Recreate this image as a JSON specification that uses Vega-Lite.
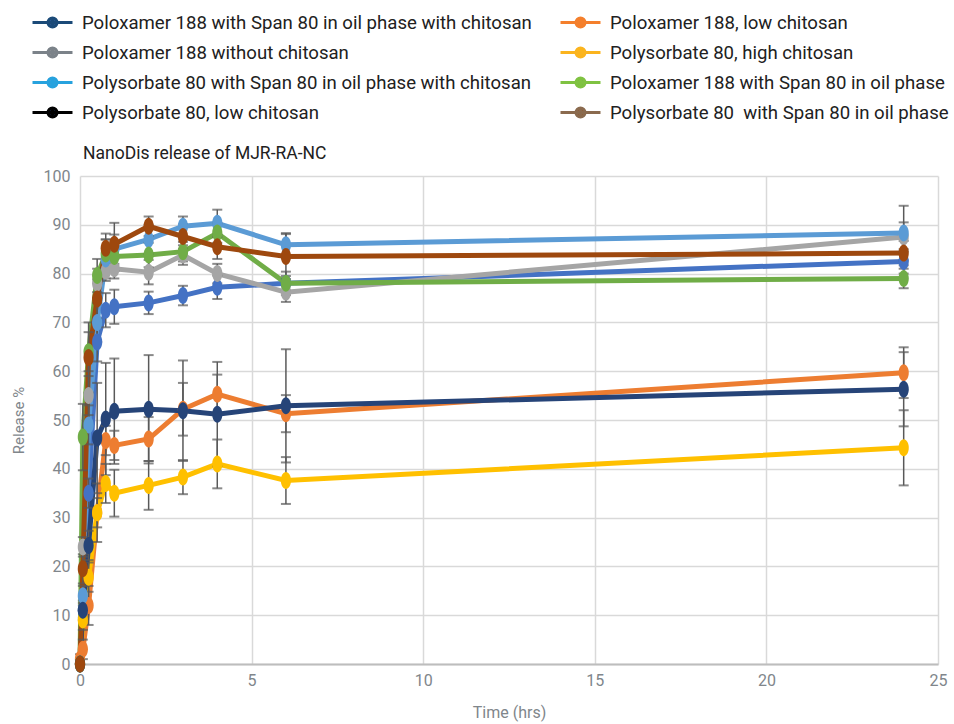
{
  "$schema": "https://vega.github.io/schema/vega-lite/v6.json",
  "width": 858,
  "height": 488,
  "autosize": {"type": "none"},
  "padding": {"left": 80, "top": 176, "right": 16, "bottom": 60},
  "background": "white",
  "title": {"text": "NanoDis release of MJR-RA-NC", "anchor": "start", "frame": "group", "font": "Roboto", "fontSize": 17.5, "fontWeight": "normal", "color": "#212121", "dx": 3, "offset": -156},
  "datasets": {
    "rel": [
      {"s": "Poloxamer 188 with Span 80 in oil phase with chitosan", "t": 0, "r": 0, "e": 0.5},
      {"s": "Poloxamer 188 with Span 80 in oil phase with chitosan", "t": 0.083, "r": 11, "e": 1.5},
      {"s": "Poloxamer 188 with Span 80 in oil phase with chitosan", "t": 0.25, "r": 35, "e": 3},
      {"s": "Poloxamer 188 with Span 80 in oil phase with chitosan", "t": 0.5, "r": 66, "e": 4},
      {"s": "Poloxamer 188 with Span 80 in oil phase with chitosan", "t": 0.75, "r": 72.5, "e": 3.5},
      {"s": "Poloxamer 188 with Span 80 in oil phase with chitosan", "t": 1, "r": 73.2, "e": 3.5},
      {"s": "Poloxamer 188 with Span 80 in oil phase with chitosan", "t": 2, "r": 74, "e": 2.3},
      {"s": "Poloxamer 188 with Span 80 in oil phase with chitosan", "t": 3, "r": 75.5, "e": 2},
      {"s": "Poloxamer 188 with Span 80 in oil phase with chitosan", "t": 4, "r": 77.2, "e": 2.4},
      {"s": "Poloxamer 188 with Span 80 in oil phase with chitosan", "t": 6, "r": 78, "e": 1.5},
      {"s": "Poloxamer 188 with Span 80 in oil phase with chitosan", "t": 24, "r": 82.5, "e": 2.5},
      {"s": "Poloxamer 188, low chitosan", "t": 0, "r": 1, "e": 1},
      {"s": "Poloxamer 188, low chitosan", "t": 0.083, "r": 3, "e": 2},
      {"s": "Poloxamer 188, low chitosan", "t": 0.25, "r": 12, "e": 4},
      {"s": "Poloxamer 188, low chitosan", "t": 0.5, "r": 31, "e": 6},
      {"s": "Poloxamer 188, low chitosan", "t": 0.75, "r": 45.8, "e": 3},
      {"s": "Poloxamer 188, low chitosan", "t": 1, "r": 44.8, "e": 3},
      {"s": "Poloxamer 188, low chitosan", "t": 2, "r": 46.1, "e": 4.5},
      {"s": "Poloxamer 188, low chitosan", "t": 3, "r": 52.2, "e": 5.4},
      {"s": "Poloxamer 188, low chitosan", "t": 4, "r": 55.3, "e": 4},
      {"s": "Poloxamer 188, low chitosan", "t": 6, "r": 51.3, "e": 3.8},
      {"s": "Poloxamer 188, low chitosan", "t": 24, "r": 59.7, "e": 5.2},
      {"s": "Poloxamer 188 without chitosan", "t": 0, "r": 0, "e": 0.5},
      {"s": "Poloxamer 188 without chitosan", "t": 0.083, "r": 24, "e": 2},
      {"s": "Poloxamer 188 without chitosan", "t": 0.25, "r": 55, "e": 4},
      {"s": "Poloxamer 188 without chitosan", "t": 0.5, "r": 78, "e": 3},
      {"s": "Poloxamer 188 without chitosan", "t": 0.75, "r": 80.5, "e": 2},
      {"s": "Poloxamer 188 without chitosan", "t": 1, "r": 81, "e": 2},
      {"s": "Poloxamer 188 without chitosan", "t": 2, "r": 80.3, "e": 2.5},
      {"s": "Poloxamer 188 without chitosan", "t": 3, "r": 83.8, "e": 2},
      {"s": "Poloxamer 188 without chitosan", "t": 4, "r": 80, "e": 2},
      {"s": "Poloxamer 188 without chitosan", "t": 6, "r": 76.2, "e": 2},
      {"s": "Poloxamer 188 without chitosan", "t": 24, "r": 87.5, "e": 3},
      {"s": "Polysorbate 80, high chitosan", "t": 0, "r": 0, "e": 0.5},
      {"s": "Polysorbate 80, high chitosan", "t": 0.083, "r": 9, "e": 2},
      {"s": "Polysorbate 80, high chitosan", "t": 0.25, "r": 17.8, "e": 3},
      {"s": "Polysorbate 80, high chitosan", "t": 0.5, "r": 31, "e": 3},
      {"s": "Polysorbate 80, high chitosan", "t": 0.75, "r": 37, "e": 4},
      {"s": "Polysorbate 80, high chitosan", "t": 1, "r": 35, "e": 4.8},
      {"s": "Polysorbate 80, high chitosan", "t": 2, "r": 36.6, "e": 5},
      {"s": "Polysorbate 80, high chitosan", "t": 3, "r": 38.3, "e": 3.5},
      {"s": "Polysorbate 80, high chitosan", "t": 4, "r": 41, "e": 5},
      {"s": "Polysorbate 80, high chitosan", "t": 6, "r": 37.6, "e": 4.8},
      {"s": "Polysorbate 80, high chitosan", "t": 24, "r": 44.3, "e": 7.7},
      {"s": "Polysorbate 80 with Span 80 in oil phase with chitosan", "t": 0, "r": 0, "e": 0.5},
      {"s": "Polysorbate 80 with Span 80 in oil phase with chitosan", "t": 0.083, "r": 14, "e": 2},
      {"s": "Polysorbate 80 with Span 80 in oil phase with chitosan", "t": 0.25, "r": 49, "e": 4},
      {"s": "Polysorbate 80 with Span 80 in oil phase with chitosan", "t": 0.5, "r": 70, "e": 4},
      {"s": "Polysorbate 80 with Span 80 in oil phase with chitosan", "t": 0.75, "r": 83, "e": 4},
      {"s": "Polysorbate 80 with Span 80 in oil phase with chitosan", "t": 1, "r": 85, "e": 3},
      {"s": "Polysorbate 80 with Span 80 in oil phase with chitosan", "t": 2, "r": 87, "e": 3},
      {"s": "Polysorbate 80 with Span 80 in oil phase with chitosan", "t": 3, "r": 89.7, "e": 2},
      {"s": "Polysorbate 80 with Span 80 in oil phase with chitosan", "t": 4, "r": 90.3, "e": 2.8},
      {"s": "Polysorbate 80 with Span 80 in oil phase with chitosan", "t": 6, "r": 85.9, "e": 2.4},
      {"s": "Polysorbate 80 with Span 80 in oil phase with chitosan", "t": 24, "r": 88.3, "e": 5.6},
      {"s": "Poloxamer 188 with Span 80 in oil phase", "t": 0, "r": 0, "e": 0.5},
      {"s": "Poloxamer 188 with Span 80 in oil phase", "t": 0.083, "r": 46.5, "e": 6.8},
      {"s": "Poloxamer 188 with Span 80 in oil phase", "t": 0.25, "r": 64, "e": 4},
      {"s": "Poloxamer 188 with Span 80 in oil phase", "t": 0.5, "r": 79.6, "e": 3.4},
      {"s": "Poloxamer 188 with Span 80 in oil phase", "t": 0.75, "r": 84, "e": 3},
      {"s": "Poloxamer 188 with Span 80 in oil phase", "t": 1, "r": 83.5, "e": 3},
      {"s": "Poloxamer 188 with Span 80 in oil phase", "t": 2, "r": 83.8, "e": 2.5},
      {"s": "Poloxamer 188 with Span 80 in oil phase", "t": 3, "r": 84.5, "e": 2},
      {"s": "Poloxamer 188 with Span 80 in oil phase", "t": 4, "r": 88.3, "e": 2},
      {"s": "Poloxamer 188 with Span 80 in oil phase", "t": 6, "r": 78, "e": 2.4},
      {"s": "Poloxamer 188 with Span 80 in oil phase", "t": 24, "r": 79, "e": 2},
      {"s": "Polysorbate 80, low chitosan", "t": 0, "r": 0, "e": 0.5},
      {"s": "Polysorbate 80, low chitosan", "t": 0.083, "r": 11, "e": 2},
      {"s": "Polysorbate 80, low chitosan", "t": 0.25, "r": 24.3, "e": 3},
      {"s": "Polysorbate 80, low chitosan", "t": 0.5, "r": 46.3, "e": 11.3},
      {"s": "Polysorbate 80, low chitosan", "t": 0.75, "r": 50.2, "e": 11.5},
      {"s": "Polysorbate 80, low chitosan", "t": 1, "r": 51.8, "e": 10.8},
      {"s": "Polysorbate 80, low chitosan", "t": 2, "r": 52.2, "e": 11.1},
      {"s": "Polysorbate 80, low chitosan", "t": 3, "r": 51.9, "e": 10.3},
      {"s": "Polysorbate 80, low chitosan", "t": 4, "r": 51.2, "e": 10.7},
      {"s": "Polysorbate 80, low chitosan", "t": 6, "r": 52.9, "e": 11.6},
      {"s": "Polysorbate 80, low chitosan", "t": 24, "r": 56.3, "e": 7.6},
      {"s": "Polysorbate 80\u00a0 with Span 80 in oil phase", "t": 0, "r": 0, "e": 0.5},
      {"s": "Polysorbate 80\u00a0 with Span 80 in oil phase", "t": 0.083, "r": 19.5, "e": 3},
      {"s": "Polysorbate 80\u00a0 with Span 80 in oil phase", "t": 0.25, "r": 62.8, "e": 7.2},
      {"s": "Polysorbate 80\u00a0 with Span 80 in oil phase", "t": 0.5, "r": 74.8, "e": 4},
      {"s": "Polysorbate 80\u00a0 with Span 80 in oil phase", "t": 0.75, "r": 85.2, "e": 3},
      {"s": "Polysorbate 80\u00a0 with Span 80 in oil phase", "t": 1, "r": 86, "e": 4.4},
      {"s": "Polysorbate 80\u00a0 with Span 80 in oil phase", "t": 2, "r": 89.7, "e": 2},
      {"s": "Polysorbate 80\u00a0 with Span 80 in oil phase", "t": 3, "r": 87.6, "e": 2.5},
      {"s": "Polysorbate 80\u00a0 with Span 80 in oil phase", "t": 4, "r": 85.5, "e": 2.5},
      {"s": "Polysorbate 80\u00a0 with Span 80 in oil phase", "t": 6, "r": 83.5, "e": 4.6},
      {"s": "Polysorbate 80\u00a0 with Span 80 in oil phase", "t": 24, "r": 84.2, "e": 2.5}
    ]
  },
  "data": {"name": "rel"},
  "encoding": {
    "x": {
      "field": "t", "type": "quantitative", "scale": {"domain": [0, 25], "nice": false},
      "axis": {
        "title": "Time (hrs)", "values": [0, 5, 10, 15, 20, 25], "ticks": false,
        "domain": true, "domainColor": "#bdbdbd", "domainWidth": 2,
        "grid": true, "gridColor": "#d9d9d9", "gridWidth": 1.5,
        "labelFont": "Roboto", "labelFontSize": 16, "labelColor": "#80868b", "labelPadding": 8, "labelFlush": false,
        "titleFont": "Roboto", "titleFontSize": 16, "titleFontWeight": "normal", "titleColor": "#80868b", "titlePadding": 16
      }
    },
    "y": {
      "field": "r", "type": "quantitative", "scale": {"domain": [0, 100], "nice": false},
      "axis": {
        "title": "Release %", "values": [0, 10, 20, 30, 40, 50, 60, 70, 80, 90, 100], "ticks": false,
        "domain": false, "grid": true, "gridColor": "#d9d9d9", "gridWidth": 1.5,
        "labelFont": "Roboto", "labelFontSize": 16, "labelColor": "#80868b", "labelPadding": 10,
        "titleFont": "Roboto", "titleFontSize": 15, "titleFontWeight": "normal", "titleColor": "#80868b", "titlePadding": 17
      }
    }
  },
  "layer": [
    {
      "transform": [{"filter": "datum.t == 0"}],
      "mark": {"type": "line", "strokeWidth": 3},
      "encoding": {
        "stroke": {
          "field": "s", "type": "nominal",
          "scale": {
            "domain": ["Poloxamer 188 with Span 80 in oil phase with chitosan", "Poloxamer 188, low chitosan", "Poloxamer 188 without chitosan", "Polysorbate 80, high chitosan", "Polysorbate 80 with Span 80 in oil phase with chitosan", "Poloxamer 188 with Span 80 in oil phase", "Polysorbate 80, low chitosan", "Polysorbate 80\u00a0 with Span 80 in oil phase"],
            "range": ["#1b4a78", "#f47f2c", "#7b8289", "#fbb41e", "#27a2de", "#7fc241", "#000000", "#8a6a4e"]
          },
          "legend": {
            "orient": "none", "legendX": -44, "legendY": -170, "columns": 2, "direction": "horizontal", "title": null,
            "labelFont": "Roboto", "labelFontSize": 18.6, "labelColor": "#212121", "labelLimit": 700,
            "symbolType": "M-1.333,0H1.333M-0.1,0A0.1,0.1 0 1,0 0.1,0A0.1,0.1 0 1,0 -0.1,0M-0.3,0A0.3,0.3 0 1,0 0.3,0A0.3,0.3 0 1,0 -0.3,0",
            "symbolSize": 900, "symbolStrokeWidth": 3, "symbolOpacity": 1,
            "columnPadding": 22, "rowPadding": 3, "labelOffset": 13, "padding": 0
          }
        }
      }
    },
    {
      "mark": {"type": "line", "strokeWidth": 5},
      "encoding": {
        "color": {
          "field": "s", "type": "nominal", "legend": null,
          "scale": {
            "domain": ["Poloxamer 188 with Span 80 in oil phase with chitosan", "Poloxamer 188, low chitosan", "Poloxamer 188 without chitosan", "Polysorbate 80, high chitosan", "Polysorbate 80 with Span 80 in oil phase with chitosan", "Poloxamer 188 with Span 80 in oil phase", "Polysorbate 80, low chitosan", "Polysorbate 80\u00a0 with Span 80 in oil phase"],
            "range": ["#4472C4", "#ED7D31", "#A5A5A5", "#FFC000", "#5B9BD5", "#70AD47", "#264478", "#9E480E"]
          }
        }
      }
    },
    {
      "mark": {"type": "errorbar", "color": "#595959", "thickness": 1.5, "ticks": {"size": 10, "thickness": 2, "color": "#595959"}},
      "encoding": {
        "yError": {"field": "e"}
      }
    },
    {
      "mark": {"type": "point", "filled": true, "opacity": 1, "size": 289, "shape": "M0,-1A0.6,1 0 1,1 0,1A0.6,1 0 1,1 0,-1Z"},
      "encoding": {
        "color": {"field": "s", "type": "nominal", "legend": null}
      }
    }
  ],
  "config": {
    "view": {"stroke": null},
    "font": "Roboto"
  }
}
